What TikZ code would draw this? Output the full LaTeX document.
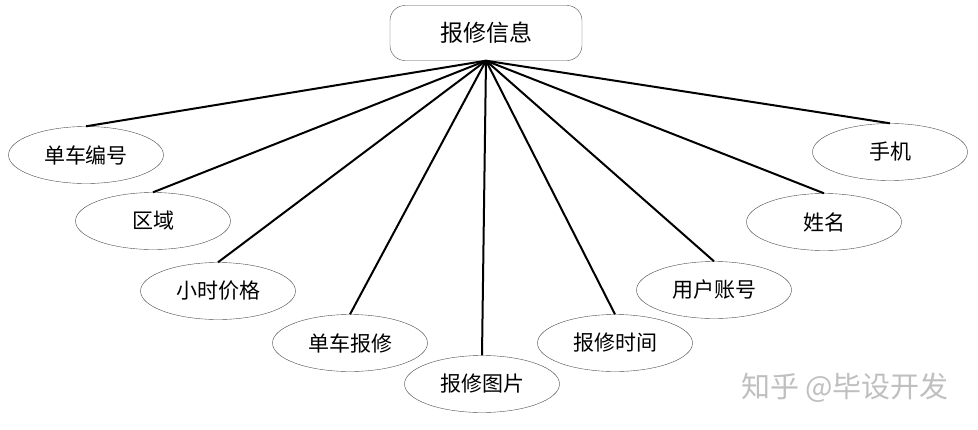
\documentclass[tikz,border=0pt]{standalone}
\usepackage{fontspec}
\setmainfont{Noto Sans CJK SC}
\usetikzlibrary{positioning,shapes.geometric}

\begin{document}
\begin{tikzpicture}[x=1pt,y=-1pt,
  attr/.style={draw=black!70,ellipse,minimum width=155pt,minimum height=57pt,inner sep=0pt,font=\fontsize{21}{25}\selectfont},
  link/.style={line width=2pt}]
\useasboundingbox (0,0) rectangle (978,429);
\node[draw=black!70,rounded corners=15pt,minimum width=192pt,minimum height=55pt,font=\fontsize{23}{27}\selectfont] (info) at (486,33) {报修信息};
\node[attr] (bikeno) at (86,155) {单车编号};
\node[attr] (area) at (153,221) {区域};
\node[attr] (price) at (218,291) {小时价格};
\node[attr] (bikerep) at (350,343) {单车报修};
\node[attr] (pic) at (482,384) {报修图片};
\node[attr] (time) at (615,343) {报修时间};
\node[attr] (account) at (714,290) {用户账号};
\node[attr] (name) at (824,222) {姓名};
\node[attr] (phone) at (890,152) {手机};
\foreach \n in {bikeno,area,price,bikerep,pic,time,account,name,phone}
  \draw[link] (info.south) -- (\n.north);
% watermark
\node[text=black!25,font=\fontsize{29}{33}\selectfont] (mark) at (845,388) {知乎 @毕设开发};
\end{tikzpicture}
\end{document}
